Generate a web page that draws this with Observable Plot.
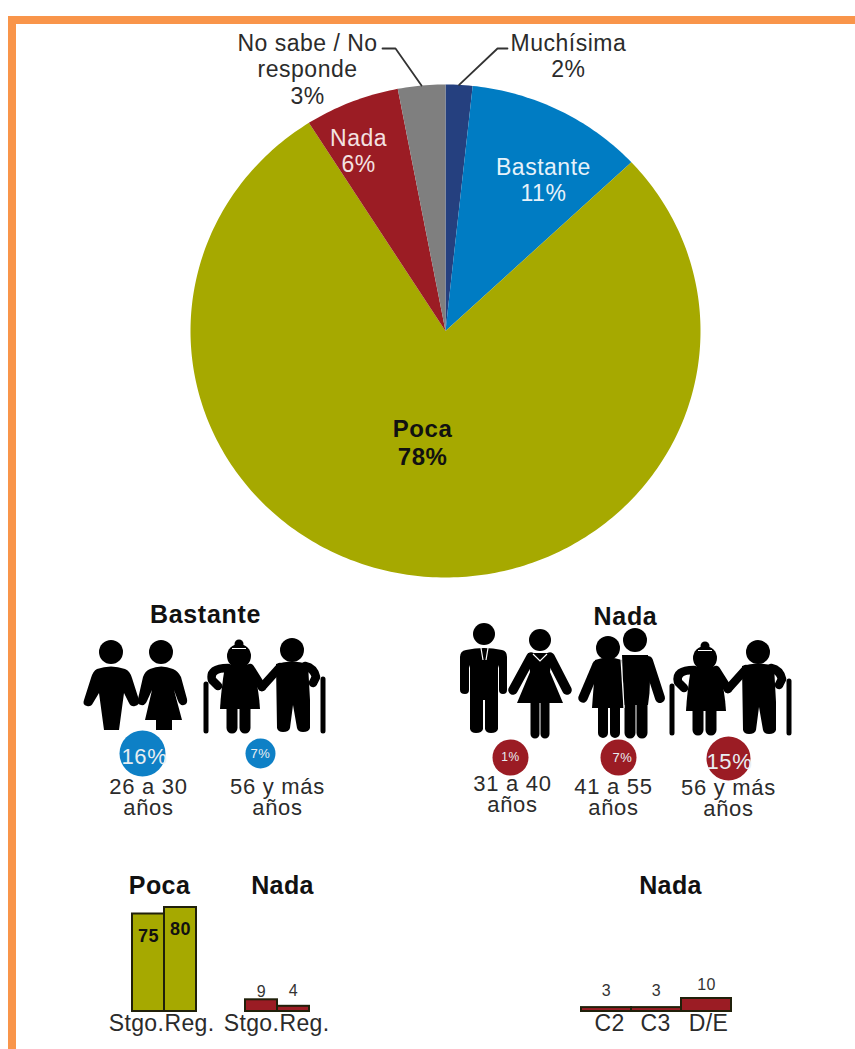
<!DOCTYPE html>
<html><head><meta charset="utf-8">
<script src="https://cdn.jsdelivr.net/npm/d3@7"></script>
<script src="https://cdn.jsdelivr.net/npm/@observablehq/plot@0.6"></script>
<style>
html,body{margin:0;padding:0;background:#fff}
#page{position:relative;width:855px;height:1049px;overflow:hidden;background:#fff;font-family:"Liberation Sans",Arial,sans-serif}
#page>svg{position:absolute;left:0;overflow:visible}
.edge{position:absolute;background:#F9954A}
</style></head><body>
<div id="page">
<div class="edge" style="left:8px;top:16px;right:0;height:8px"></div>
<div class="edge" style="left:8px;top:16px;width:8px;bottom:0"></div>
</div>
<script>
// ---------- data ----------
const pieCategories = ["Muchísima", "Bastante", "Poca", "Nada", "No sabe / No\nresponde"];
const pieValues = [1.7, 11.3, 78, 6, 3];

const bastanteAges = ["26 a 30\naños", "56 y más\naños"];
const bastanteShares = [16, 7];
const nadaAges = ["31 a 40\naños", "41 a 55\naños", "56 y más\naños"];
const nadaShares = [1, 7, 15];

const zoneLabels = ["Stgo.", "Reg."];
const pocaZone = [75, 80];
const nadaZone = [9, 4];
const gseLabels = ["C2", "C3", "D/E"];
const nadaGse = [3, 3, 10];

// ---------- styles and layout ----------
const FONT = '"Liberation Sans", Arial, sans-serif';
const INK = "#2b2b2b";
const pieColors = ["#25407F", "#007CC3", "#A6A900", "#9B1C24", "#7F7F7F"];
const page = document.getElementById("page");
const baseOpts = (height, extra = {}) => ({
  width: 855, height, margin: 0,
  x: {axis: null}, y: {axis: null},
  style: {background: "transparent", fontFamily: FONT, overflow: "visible"},
  ...extra
});
function place(svg, top) { svg.style.top = top + "px"; page.appendChild(svg); return svg; }

// ---------- pie ----------
const arcs = d3.pie().sort(null)(pieValues);
const pieOutline = arcs.flatMap((a, i) => {
  const steps = Math.max(2, Math.ceil((a.endAngle - a.startAngle) * 60));
  const pts = [{category: pieCategories[i], x: 0, y: 0}];
  for (let s = 0; s <= steps; s++) {
    const t = a.startAngle + (a.endAngle - a.startAngle) * s / steps;
    pts.push({category: pieCategories[i], x: Math.sin(t), y: Math.cos(t)});
  }
  return pts;
});
const pieRows = pieCategories.map((c, i) => ({
  category: c, value: pieValues[i], mid: (arcs[i].startAngle + arcs[i].endAngle) / 2,
  text: c + "\n" + Math.round(pieValues[i]) + "%"
}));
const pieLabelAt = {
  "Muchísima": [0.482, 1.118, INK, "normal", 23],
  "Bastante": [0.384, 0.615, "#e6f2fa", "normal", 23],
  "Poca": [-0.09, -0.452, "#111", "bold", 24],
  "Nada": [-0.341, 0.732, "#f3e2e2", "normal", 23],
  "No sabe / No\nresponde": [-0.541, 1.064, INK, "normal", 23]
};
const leaderElbows = {
  "Muchísima": [[0.204, 1.146], [0.243, 1.146]],
  "No sabe / No\nresponde": [[-0.196, 1.146], [-0.247, 1.146]]
};
const leaders = pieRows.filter(r => leaderElbows[r.category]).flatMap(r => [
  {category: r.category, x: Math.sin(r.mid), y: Math.cos(r.mid)},
  ...leaderElbows[r.category].map(([x, y]) => ({category: r.category, x, y}))
]);
place(Plot.plot(baseOpts(590, {
  x: {axis: null, domain: [-1, 1], range: [190, 700]},
  y: {axis: null, domain: [-1, 1], range: [577, 84]},
  color: {domain: pieCategories, range: pieColors},
  marks: [
    Plot.line(pieOutline, {x: "x", y: "y", z: "category", fill: "category", stroke: null, curve: "linear"}),
    Plot.line(leaders, {x: "x", y: "y", z: "category", stroke: "#333", strokeWidth: 1.8, curve: "linear"}),
    ...pieRows.map(r => {
      const [lx, ly, col, weight, size] = pieLabelAt[r.category];
      return Plot.text([r], {
        x: () => lx, y: () => ly, text: "text", fill: col, fontWeight: weight,
        fontSize: size, lineHeight: 1.16, textAnchor: "middle", lineAnchor: "middle"
      });
    })
  ]
})), 0).style.letterSpacing = "0.5px";

// ---------- age bubbles ----------
function bubbles(ages, shares, fill, radii, sizes, ageNudge, bubbleNudge) {
  const rows = ages.map((a, i) => ({age: a, share: shares[i], text: shares[i] + "%"}));
  return rows.flatMap((r, i) => [
    Plot.dot([r], {x: "age", frameAnchor: "top", dy: 165 + bubbleNudge[i][1], dx: bubbleNudge[i][0], r: radii[i], fill, stroke: null}),
    Plot.text([r], {x: "age", frameAnchor: "top", dy: 165 + bubbleNudge[i][1] + bubbleNudge[i][2], dx: bubbleNudge[i][0] + bubbleNudge[i][3],
      text: "text", fill: "#e8eef2", fontSize: sizes[i], lineAnchor: "middle"}),
    Plot.text([r], {x: "age", frameAnchor: "top", dy: 208 + ageNudge[i][1], dx: ageNudge[i][0], text: "age",
      fill: INK, fontSize: 22, lineHeight: 0.98, lineAnchor: "middle", textAnchor: "middle"})
  ]);
}
function titleMark(t, x, y) {
  return Plot.text([t], {frameAnchor: "top-left", dx: x, dy: y, text: d => d, fontWeight: "bold",
    fontSize: 25, fill: "#111", textAnchor: "middle", lineAnchor: "middle"});
}
place(Plot.plot(baseOpts(240, {
  x: {axis: null, type: "point", domain: bastanteAges, range: [142, 260], padding: 0, align: 0},
  marks: [
    titleMark("Bastante", 205, 24),
    ...bubbles(bastanteAges, bastanteShares, "#0E80C6", [23, 15], [22, 13],
      [[6, -1], [17, -1]], [[0, -2, 3, 2], [0, -2, 0, 0]])
  ]
})), 590).style.letterSpacing = "0.7px";
place(Plot.plot(baseOpts(240, {
  x: {axis: null, type: "point", domain: nadaAges, range: [510, 728], padding: 0, align: 0},
  marks: [
    titleMark("Nada", 625, 26),
    ...bubbles(nadaAges, nadaShares, "#9B1C24", [18, 18, 22], [12, 13, 22],
      [[2, -4], [-6, -1], [0, 0]], [[0, 2, 0, 0], [-1, 2, 0, 4], [0, 3, 3, 1]])
  ]
})), 590).style.letterSpacing = "0.7px";

// ---------- bars ----------
function barPanel(title, titleX, cats, vals, fill, range, valueStyle, labelNudge) {
  const rows = cats.map((c, i) => ({cat: c, val: vals[i]}));
  return place(Plot.plot(baseOpts(189, {
    x: {axis: null, type: "band", domain: cats, range, padding: 0},
    y: {axis: null, domain: [0, 100], range: [151, 21]},
    marks: [
      titleMark(title, titleX, 25),
      Plot.barY(rows, {x: "cat", y: "val", fill, stroke: "#20200a", strokeWidth: 2, insetLeft: 0, insetRight: 0}),
      ...rows.map((r, i) => Plot.text([r], {x: "cat", y: "val", text: d => String(d.val),
        dy: valueStyle.dy[i], fill: valueStyle.fill, fontSize: valueStyle.size, fontWeight: valueStyle.weight, lineAnchor: "middle"})),
      ...rows.map((r, i) => Plot.text([r], {x: "cat", frameAnchor: "top", dy: 163, dx: labelNudge[i], text: "cat",
        fill: INK, fontSize: 23, lineAnchor: "middle"}))
    ]
  })), 860).style.letterSpacing = "0.4px";
}
barPanel("Poca", 159, zoneLabels, pocaZone, "#A6A900", [131, 196],
  {dy: [22, 22], fill: "#111", size: 18, weight: "bold"}, [-12, 9]);
barPanel("Nada", 282, zoneLabels, nadaZone, "#9B1C24", [245, 309],
  {dy: [-8, -15], fill: "#333", size: 16, weight: "normal"}, [-10, 11]);
barPanel("Nada", 670, gseLabels, nadaGse, "#9B1C24", [580, 732],
  {dy: [-17, -17, -14], fill: "#333", size: 16, weight: "normal"}, [3, -1, 2]);

// ---------- pictograms (decoration, not data) ----------
const ns = "http://www.w3.org/2000/svg";
const art = document.createElementNS(ns, "svg");
art.setAttribute("width", 855); art.setAttribute("height", 1049);
art.style.top = "0"; art.style.pointerEvents = "none";
const elders = `
  <circle cx="239" cy="656" r="12"/><circle cx="239" cy="644" r="4.5"/>
  <path d="M232 648.5H246" stroke="#fff" stroke-width="1" fill="none"/>
  <path d="M225 666Q239 661 253 666Q259 690 260 709L220 709Q221 690 225 666Z"/>
  <path d="M232 705V728M245 705V728" stroke="#000" stroke-width="11" stroke-linecap="round" fill="none"/>
  <path d="M228 668Q209 668 212 680L218 686M250 668L262 687" stroke="#000" stroke-width="8.5" stroke-linecap="round" stroke-linejoin="round" fill="none"/>
  <path d="M206 684V731M323 679V731" stroke="#000" stroke-width="5" stroke-linecap="round" fill="none"/>
  <circle cx="292" cy="650" r="12"/>
  <path d="M276 664Q292 659 308 664L310 700L310 728Q309 732 303 732Q298 732 297 728L293 705L290 728Q289 732 283 732Q278 732 277 728Z"/>
  <path d="M280 667L262 687M305 666Q314 668 316 677L313 683" stroke="#000" stroke-width="8.5" stroke-linecap="round" stroke-linejoin="round" fill="none"/>`;
art.innerHTML = `<g fill="#000">
  <circle cx="111" cy="652" r="12"/>
  <path d="M97 669Q111 664 125 669Q130 671 132 678L139 700Q140 705 135 706Q131 707 129 703L124 693L119 730L104 730L99 693L93 703Q91 707 87 706Q82 705 84 700L91 678Q93 671 97 669Z"/>
  <circle cx="161" cy="652" r="12"/>
  <path d="M150 669Q161 664 173 669Q178 671 181 677L187 699Q188 704 184 705Q180 706 178 701L174 690L182 720L172 720L172 730L156 730L156 720L145 720L152 690L147 701Q145 706 141 705Q136 704 138 699L143 677Q145 671 150 669Z"/>
  ${elders}
  <g transform="translate(466,2)">${elders}</g>
  <circle cx="484" cy="634" r="11"/>
  <path d="M466 650Q484 646 502 650Q507 651 507 657L507 690Q507 694 503 694Q499 694 499 690L499 665L498 668L498 729Q497 733 491 733Q486 733 485 729L485 700L483 700L483 729Q482 733 476 733Q471 733 470 729L470 668L469 665L469 690Q469 694 465 694Q460 694 460 690L460 657Q460 651 466 650Z"/>
  <path d="M481 648L483 660M488 648L486 660" stroke="#fff" stroke-width="1.2" fill="none"/>
  <circle cx="540" cy="640" r="11"/>
  <path d="M528 653L552 653L550 672L563 703L517 703L530 672Z"/>
  <path d="M531 657L513 690M550 657L567 690" stroke="#000" stroke-width="9.5" stroke-linecap="round" fill="none"/>
  <path d="M535 700V734M545 700V734" stroke="#000" stroke-width="9" stroke-linecap="round" fill="none"/>
  <path d="M533 654L540 661L547 654" stroke="#fff" stroke-width="1.2" fill="none"/>
  <circle cx="635" cy="640" r="12"/>
  <path d="M622 655L648 655Q652 680 648 705L624 705Z"/>
  <path d="M648 661L660 698" stroke="#000" stroke-width="10" stroke-linecap="round" fill="none"/>
  <path d="M630 700V733M642 700V733" stroke="#000" stroke-width="11" stroke-linecap="round" fill="none"/>
  <circle cx="608" cy="648" r="12"/>
  <path d="M595 660Q608 655 622 660L624 708L592 708Q594 685 595 660Z"/>
  <path d="M597 665L583 698" stroke="#000" stroke-width="9.5" stroke-linecap="round" fill="none"/>
  <path d="M603 705V733M615 705V733" stroke="#000" stroke-width="10" stroke-linecap="round" fill="none"/>
  <path d="M621 658L624 708" stroke="#fff" stroke-width="1.2" fill="none"/>
</g>`;
page.appendChild(art);
</script>
</body></html>
